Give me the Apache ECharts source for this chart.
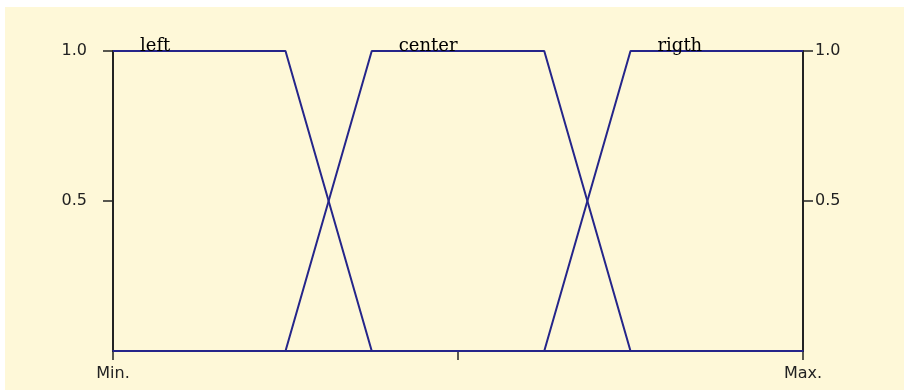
<!DOCTYPE html>
<html><head><meta charset="utf-8">
<script src="https://cdn.jsdelivr.net/npm/echarts@6/dist/echarts.min.js"></script>
<style>html,body{margin:0;padding:0;background:#fff}#c{width:904px;height:392px}</style>
</head><body><div id="c"></div>
<script>
// Membership functions (x on a 0..100 scale between Min. and Max.)
const setNames = ['left', 'center', 'rigth'];
const xLeft   = [0, 25, 37.5, 100];
const yLeft   = [1, 1, 0, 0];
const xCenter = [0, 25, 37.5, 62.5, 75, 100];
const yCenter = [0, 0, 1, 1, 0, 0];
const xRight  = [0, 62.5, 75, 100];
const yRight  = [0, 0, 1, 1];
const xTickLabels = ['Min.', '', 'Max.'];
const yTickValues = [0.5, 1.0];

const lineColor = '#25258a';
const axisColor = '#222222';

function pairs(xs, ys) { return xs.map((x, i) => [x, ys[i]]); }
function plateauStart(xs, ys) { return xs[ys.indexOf(1)]; }

const sets = [[xLeft, yLeft], [xCenter, yCenter], [xRight, yRight]];

const series = sets.map(([xs, ys], i) => ({
  type: 'line',
  name: setNames[i],
  data: pairs(xs, ys),
  symbol: 'none',
  lineStyle: { color: lineColor, width: 2 },
  z: 3,
  markPoint: {
    symbol: 'rect', symbolSize: 0, silent: true,
    data: [{ coord: [plateauStart(xs, ys), 1], name: setNames[i] }],
    label: {
      show: true, formatter: setNames[i], position: 'inside',
      align: 'left', verticalAlign: 'bottom', offset: [27, 4],
      fontFamily: 'DejaVu Serif', fontSize: 18, color: '#000'
    }
  }
}));

const chart = echarts.init(document.getElementById('c'));
chart.setOption({
  backgroundColor: '#ffffff',
  animation: false,
  graphic: [{ type: 'rect', shape: { x: 5, y: 7, width: 899, height: 383 }, style: { fill: '#fef8d8' }, z: -10, silent: true }],
  grid: { left: 113, right: 101, top: 51, bottom: 41 },
  xAxis: {
    type: 'value', min: 0, max: 100, interval: 50,
    splitLine: { show: false },
    axisLine: { lineStyle: { color: lineColor, width: 2 } },
    axisTick: { show: true, length: 9, lineStyle: { color: axisColor, width: 1.5 } },
    axisLabel: { margin: 15, fontFamily: 'DejaVu Sans', fontSize: 16, color: '#222',
      formatter: (v, i) => xTickLabels[i] }
  },
  yAxis: [
    { type: 'value', position: 'left', min: 0, max: 1, interval: 0.5,
      splitLine: { show: false },
      axisLine: { show: true, lineStyle: { color: axisColor, width: 2 } },
      axisTick: { show: true, length: 10, customValues: yTickValues, lineStyle: { color: axisColor, width: 1.5 } },
      axisLabel: { margin: 26, customValues: yTickValues, fontFamily: 'DejaVu Sans', fontSize: 16, color: '#222',
        formatter: v => v.toFixed(1) } },
    { type: 'value', position: 'right', min: 0, max: 1, interval: 0.5,
      splitLine: { show: false },
      axisLine: { show: true, lineStyle: { color: axisColor, width: 2 } },
      axisTick: { show: true, length: 10, customValues: yTickValues, lineStyle: { color: axisColor, width: 1.5 } },
      axisLabel: { margin: 12, customValues: yTickValues, fontFamily: 'DejaVu Sans', fontSize: 16, color: '#222',
        formatter: v => v.toFixed(1) } }
  ],
  series: series
});
</script></body></html>
